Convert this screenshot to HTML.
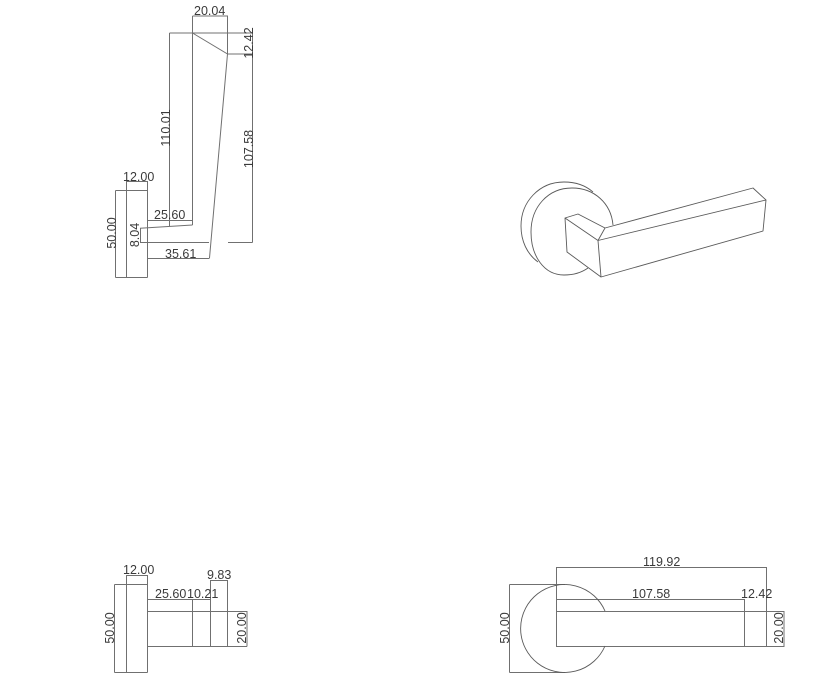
<!DOCTYPE html>
<html><head><meta charset="utf-8"><style>
html,body{margin:0;padding:0;background:#fff;width:818px;height:691px;overflow:hidden}
svg{display:block}
text{font-family:"Liberation Sans",sans-serif;font-size:12.5px;fill:#3a3a3a}
.l{stroke:#707070;stroke-width:1;fill:none}
.h{stroke:#5a5a5a;stroke-width:.9;fill:none;stroke-linejoin:round}
</style></head><body>
<svg width="818" height="691" viewBox="0 0 818 691" xmlns="http://www.w3.org/2000/svg">
<!-- top-left view -->
<path class="l" shape-rendering="crispEdges" d="M169.5 33V226M169.5 33H252.5M192.5 16V225M192.5 16H227.5V54M227.5 54H252.5M252.5 33V242.5M228 242.5H252.5M140 242.5H209M147 258.5H209.5M115.5 190.5H147.5M115.5 277.5H147.5M115.5 190.5V277.5M126.5 181V277.5M147.5 181V277.5M126.5 181.5H147.5M147 220.5H192.5M140.5 228V242.5"/>
<path class="l" d="M192.5 33L227.5 54L209.5 258M140 228.3L192.5 225"/>
<text x="194" y="15">20.04</text>
<text transform="translate(253 43) rotate(-90)" text-anchor="middle">12.42</text>
<text transform="translate(170 128) rotate(-90)" text-anchor="middle">110.01</text>
<text transform="translate(253 149) rotate(-90)" text-anchor="middle">107.58</text>
<text x="123" y="181">12.00</text>
<text x="154" y="219">25.60</text>
<text x="165" y="258">35.61</text>
<text transform="translate(116 233) rotate(-90)" text-anchor="middle">50.00</text>
<text transform="translate(139 235) rotate(-90)" text-anchor="middle">8.04</text>
<!-- isometric handle -->
<path class="h" d="M565 218L578 214L605 228L753 188L766 200L763 231L601 277L598 240.5L565 218ZM598 240.5L766 200M565 218L567 252L601 277M605 228L598 240.5"/>
<path class="h" d="M613 225C611 203 594 188 572 188C548 188 531 207 531 232C531 256 544 275 564 275C573 275 581 273 588 268"/>
<path class="h" d="M593 192C585 185 575 182 564 182C539 182 521 202 521 226C521 241 527 254 538 262"/>
<!-- bottom-left view -->
<path class="l" shape-rendering="crispEdges" d="M114.5 584.5H147.5M114.5 672.5H147.5M114.5 584.5V672.5M126.5 575V672.5M147.5 575V672.5M126.5 575.5H147.5M147 599.5H210M147 611.5H247M147 646.5H247M192.5 599V646.5M210.5 580V646.5M227.5 580V646.5M210.5 580.5H227.5M247 611V646.5"/>
<text x="123" y="574">12.00</text>
<text x="207" y="579">9.83</text>
<text x="155" y="598">25.60</text>
<text x="187" y="598">10.21</text>
<text transform="translate(114 628) rotate(-90)" text-anchor="middle">50.00</text>
<text transform="translate(246 628) rotate(-90)" text-anchor="middle">20.00</text>
<!-- bottom-right view -->
<path class="l" shape-rendering="crispEdges" d="M556.5 567V646.5M556 567.5H766.5M766.5 567V646.5M556 599.5H744.5M744.5 599V646.5M556 611.5H784.5M556 646.5H784.5M784 611V646.5M509.5 584.5H565M509.5 672.5H565M509.5 584.5V672.5"/>
<path class="h" d="M605 611A44 44 0 1 0 605 646"/>
<text x="643" y="566">119.92</text>
<text x="632" y="598">107.58</text>
<text x="741" y="598">12.42</text>
<text transform="translate(509 628) rotate(-90)" text-anchor="middle">50.00</text>
<text transform="translate(783 628) rotate(-90)" text-anchor="middle">20.00</text>
</svg>
</body></html>
